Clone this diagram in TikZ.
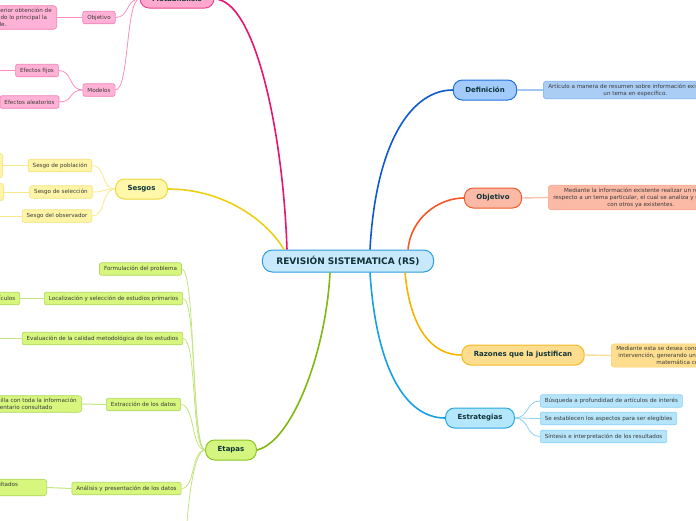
\documentclass[tikz,border=0pt]{standalone}
\usepackage{fontspec}
\setmainfont{DejaVu Sans}
\usetikzlibrary{positioning}
%颜色
\definecolor{txtmain}{RGB}{14,52,58}
\definecolor{txtsub}{RGB}{58,58,58}
\definecolor{rsfill}{RGB}{200,233,251}
\definecolor{rsline}{RGB}{43,158,224}
\definecolor{pkfill}{RGB}{255,168,207}
\definecolor{pkline}{RGB}{236,72,146}
\definecolor{pkthick}{RGB}{233,20,112}
\definecolor{pkthin}{RGB}{255,140,192}
\definecolor{pksub}{RGB}{255,178,214}
\definecolor{ywfill}{RGB}{255,247,170}
\definecolor{ywline}{RGB}{238,214,60}
\definecolor{ywthick}{RGB}{236,208,20}
\definecolor{ywthin}{RGB}{250,232,140}
\definecolor{ywsub}{RGB}{255,245,168}
\definecolor{gnfill}{RGB}{212,246,128}
\definecolor{gnline}{RGB}{140,196,30}
\definecolor{gnthick}{RGB}{128,184,16}
\definecolor{gnthin}{RGB}{196,228,128}
\definecolor{gnsub}{RGB}{214,246,126}
\definecolor{bufill}{RGB}{162,202,250}
\definecolor{buline}{RGB}{32,112,222}
\definecolor{buthick}{RGB}{14,88,210}
\definecolor{bunote}{RGB}{170,205,246}
\definecolor{bunoteln}{RGB}{122,170,236}
\definecolor{orfill}{RGB}{250,186,166}
\definecolor{orline}{RGB}{240,92,46}
\definecolor{orthick}{RGB}{246,86,40}
\definecolor{ornoteln}{RGB}{246,166,140}
\definecolor{gofill}{RGB}{254,222,142}
\definecolor{goline}{RGB}{246,186,40}
\definecolor{gothick}{RGB}{246,180,0}
\definecolor{gonoteln}{RGB}{250,206,110}
\definecolor{cyfill}{RGB}{180,230,252}
\definecolor{cyline}{RGB}{40,166,226}
\definecolor{cythick}{RGB}{22,160,226}
\definecolor{cysub}{RGB}{182,228,250}
\definecolor{cythin}{RGB}{138,210,245}
\tikzset{
  ramo/.style={rounded corners=9pt,minimum height=20pt,inner xsep=12pt,line width=1pt,
    text=txtmain,font=\fontsize{7}{8}\selectfont\bfseries},
  hoja/.style={rounded corners=2pt,minimum height=12.5pt,inner xsep=4.5pt,inner ysep=1pt,
    line width=0.6pt,text=txtsub,font=\fontsize{5.6}{7}\selectfont},
  nota/.style={hoja,inner xsep=5pt,inner ysep=2.5pt,rounded corners=3pt},
  linkL/.style={to path={.. controls +(-14,0) and +(14,0) .. (\tikztotarget)}},
  linkR/.style={to path={.. controls +(14,0) and +(-14,0) .. (\tikztotarget)}},
}
\begin{document}
\begin{tikzpicture}[x=1pt,y=-1pt]
        \path[use as bounding box,clip] (0,0) rectangle (696,520);
        %中心
        \node[ramo,fill=rsfill,draw=rsline,inner xsep=14pt,minimum height=22pt,rounded corners=10pt,
          font=\fontsize{9}{10}\selectfont\bfseries] (rs) at (348,261) {REVISIÓN SISTEMATICA (RS)};
        %左侧分支
        \node[ramo,fill=pkfill,draw=pkline,minimum height=18pt] (meta) at (177,-1) {Metaanálisis};
        \node[ramo,fill=ywfill,draw=ywline] (sesgos) at (141.5,189) {Sesgos};
        \node[ramo,fill=gnfill,draw=gnline] (etapas) at (231,450) {Etapas};
        %右侧分支
        \node[ramo,fill=bufill,draw=buline] (defi) at (485,90) {Definición};
        \node[ramo,fill=orfill,draw=orline] (obj) at (493,198) {Objetivo};
        \node[ramo,fill=gofill,draw=goline] (razon) at (523,355) {Razones que la justifican};
        \node[ramo,fill=cyfill,draw=cyline] (estr) at (480,418) {Estrategias};
        %粗连线
        \draw [line width=1.6pt][pkthick] (meta.east) .. controls +(40,0) and +(-4,-120) .. ([xshift=-61pt]rs.north);
        \draw [line width=1.6pt][ywthick] (sesgos.east) .. controls +(55,0) and +(-18,-30) .. ([xshift=-64pt]rs.north);
        \draw [line width=1.6pt][gnthick] (etapas.east) .. controls +(35,-8) and +(-4,80) .. ([xshift=-18pt]rs.south);
        \draw [line width=1.6pt][buthick] ([xshift=22pt]rs.north) .. controls +(6,-110) and +(-40,0) .. (defi.west);
        \draw [line width=1.6pt][orthick] ([xshift=60pt]rs.north) .. controls +(3,-32) and +(-25,0) .. (obj.west);
        \draw [line width=1.6pt][gothick] ([xshift=57pt]rs.south) .. controls +(5,55) and +(-30,0) .. (razon.west);
        \draw [line width=1.6pt][cythick] ([xshift=22pt]rs.south) .. controls +(6,95) and +(-40,0) .. (estr.west);
        %Metaanálisis
        \node[hoja,fill=pksub,draw=pkline!70] (mobj) at (99,17.5) {Objetivo};
        \node[nota,fill=pksub,draw=pkline!70,align=left,anchor=east] (mobjtxt) at (57,17.5)
          {Permite una posterior obtención de\\resultado, tomando lo principal la\\información viable.};
        \node[hoja,fill=pksub,draw=pkline!70] (mod) at (99,90) {Modelos};
        \node[hoja,fill=pksub,draw=pkline!70] (fijos) at (37,70.5) {Efectos fijos};
        \node[hoja,fill=pksub,draw=pkline!70] (aleat) at (29.5,102) {Efectos aleatorios};
        \coordinate (fijosc) at (-20,70.5);
        \draw [pkthin,line width=0.8pt] (meta.west) to[linkL] (mobj.east);
        \draw [pkthin,line width=0.8pt] (meta.west) to[linkL] (mod.east);
        \draw [pkthin,line width=1pt] (mobj.west) -- (mobjtxt.east);
        \draw [pkthin,line width=0.8pt] (mod.west) to[linkL] (fijos.east);
        \draw [pkthin,line width=0.8pt] (mod.west) to[linkL] (aleat.east);
        \draw [pkthin,line width=0.8pt] (fijos.west) -- (fijosc);
        %Sesgos
        \node[hoja,fill=ywsub,draw=ywline!70] (spob) at (60,165.5) {Sesgo de población};
        \node[hoja,fill=ywsub,draw=ywline!70] (ssel) at (61,192) {Sesgo de selección};
        \node[hoja,fill=ywsub,draw=ywline!70] (sobs) at (57,216) {Sesgo del observador};
        \node[nota,fill=ywsub,draw=ywline!70,align=left,anchor=east] (spobtxt) at (3,165.5)
          {Se produce cuando la muestra\\no es representativa de la\\población.};
        \node[nota,fill=ywsub,draw=ywline!70,align=left,anchor=east] (sseltxt) at (4,192)
          {Errores en la forma de\\seleccionar los participantes};
        \coordinate (sobsc) at (-20,216);
        \draw [ywthin,line width=0.8pt] (sesgos.west) to[linkL] (spob.east);
        \draw [ywthin,line width=0.8pt] (sesgos.west) to[linkL] (ssel.east);
        \draw [ywthin,line width=0.8pt] (sesgos.west) to[linkL] (sobs.east);
        \draw [ywthin,line width=1pt] (spob.west) -- (spobtxt.east);
        \draw [ywthin,line width=1pt] (ssel.west) -- (sseltxt.east);
        \draw [ywthin,line width=1pt] (sobs.west) -- (sobsc);
        %Etapas
        \node[hoja,fill=gnsub,draw=gnline!70] (e1) at (140.5,269) {Formulación del problema};
        \node[hoja,fill=gnsub,draw=gnline!70] (e2) at (113.5,298.5) {Localización y selección de estudios primarios};
        \node[hoja,fill=gnsub,draw=gnline!70] (e3) at (102.5,338.5) {Evaluación de la calidad metodológica de los estudios};
        \node[hoja,fill=gnsub,draw=gnline!70] (e4) at (143.5,404.5) {Extracción de los datos};
        \node[hoja,fill=gnsub,draw=gnline!70] (e5) at (126.5,488.5) {Análisis y presentación de los datos};
        \coordinate (e6) at (185,570);
        \node[hoja,fill=gnsub,draw=gnline!70,anchor=east] (e2txt) at (20,298.5) {Selección de artículos};
        \coordinate (e3c) at (-20,338.5);
        \node[nota,fill=gnsub,draw=gnline!70,align=left,anchor=east] (e4txt) at (82,404)
          {Se realiza una planilla con toda la información\\del material de inventario consultado};
        \node[nota,fill=gnsub,draw=gnline!70,align=left,anchor=east,text width=144pt] (e5txt) at (47,487.5)
          {Se hace la interpretación de los resultados\\obtenidos};
        \foreach \e in {e1,e2,e3,e4,e5}
          \draw [gnthin,line width=0.8pt] (etapas.west) to[linkL] (\e.east);
        \draw [gnthin,line width=0.8pt] (etapas.west) .. controls +(-14,0) and +(0,-40) .. (e6);
        \draw [gnthin,line width=1pt] (e2.west) -- (e2txt.east);
        \draw [gnthin,line width=1pt] (e3.west) -- (e3c);
        \draw [gnthin,line width=1pt] (e4.west) -- (e4txt.east);
        \draw [gnthin,line width=1pt] (e5.west) -- (e5txt.east);
        %右侧说明
        \node[nota,fill=bunote,draw=bunoteln,align=center,anchor=west] (defitxt) at (543,90)
          {Artículo a manera de resumen sobre información existente de\\un tema en específico.};
        \node[nota,fill=orfill,draw=ornoteln,align=center,anchor=west] (objtxt) at (548,197.5)
          {Mediante la información existente realizar un resumen\\respecto a un tema particular, el cual se analiza y se compara\\con otros ya existentes.};
        \node[nota,fill=gofill,draw=gonoteln,align=center,anchor=west] (razontxt) at (611,355.5)
          {Mediante esta se desea conocer la eficacia de una\\intervención, generando un resultado de manera\\matemática concreta.};
        \draw [bunoteln!70,line width=1.4pt] (defi.east) -- (defitxt.west);
        \draw [ornoteln!70,line width=1.4pt] (obj.east) -- (objtxt.west);
        \draw [gonoteln!70,line width=1.4pt] (razon.east) -- (razontxt.west);
        %Estrategias
        \node[hoja,fill=cysub,draw=cythin,anchor=west] (s1) at (540,401) {Búsqueda a profundidad de artículos de interés};
        \node[hoja,fill=cysub,draw=cythin,anchor=west] (s2) at (540,418.5) {Se establecen los aspectos para ser elegibles};
        \node[hoja,fill=cysub,draw=cythin,anchor=west] (s3) at (540,436.5) {Síntesis e interpretación de los resultados};
        \foreach \s in {s1,s2,s3}
          \draw [cythin,line width=0.8pt] (estr.east) to[linkR] (\s.west);
    \end{tikzpicture}
\end{document}
